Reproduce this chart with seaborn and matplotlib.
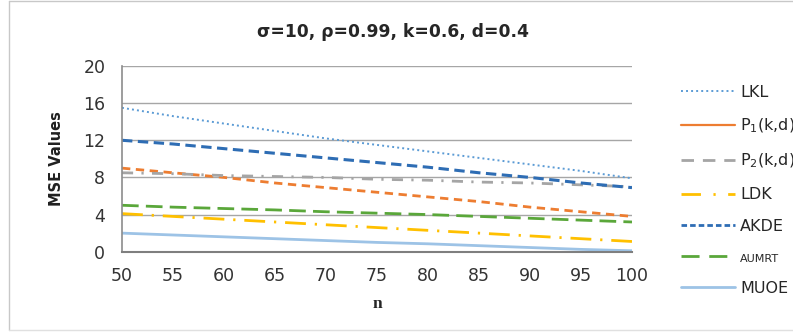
import numpy as np
import pandas as pd
import seaborn as sns
import matplotlib.pyplot as plt
from matplotlib.lines import Line2D

# values
n_values = [50, 55, 60, 65, 70, 75, 80, 85, 90, 95, 100]
lkl = [15.5, 14.6, 13.8, 13.0, 12.2, 11.5, 10.8, 10.1, 9.4, 8.7, 7.9]
p1 = [9.0, 8.5, 8.0, 7.4, 6.9, 6.4, 5.9, 5.4, 4.8, 4.3, 3.8]
p2 = [8.5, 8.4, 8.2, 8.1, 8.0, 7.8, 7.7, 7.5, 7.4, 7.2, 7.0]
ldk = [4.1, 3.8, 3.5, 3.2, 2.9, 2.6, 2.3, 2.0, 1.7, 1.4, 1.1]
akde = [12.0, 11.6, 11.1, 10.6, 10.1, 9.6, 9.1, 8.5, 8.0, 7.4, 6.9]
aumrt = [5.0, 4.8, 4.65, 4.5, 4.3, 4.15, 4.0, 3.8, 3.6, 3.4, 3.2]
muoe = [2.0, 1.8, 1.6, 1.4, 1.2, 1.0, 0.85, 0.65, 0.45, 0.25, 0.1]

methods = ["LKL", "P1", "P2", "LDK", "AKDE", "AUMRT", "MUOE"]
labels = ["LKL", "P$_1$(k,d)", "P$_2$(k,d)", "LDK", "AKDE", "AUMRT", "MUOE"]
series = [lkl, p1, p2, ldk, akde, aumrt, muoe]

colors = {"LKL": "#5b9bd5", "P1": "#ed7d31", "P2": "#a5a5a5", "LDK": "#ffc000",
          "AKDE": "#2e6db4", "AUMRT": "#5aa73a", "MUOE": "#9dc3e6"}
# line style in plot: (linewidth, dash pattern)
plot_styles = {"LKL": (1.4, (1, 1.6)), "P1": (2.0, (3.0, 2.0)),
               "P2": (2.0, (4, 3.0, 0.8, 3.0)), "LDK": (2.0, (7.5, 3.2, 0.8, 3.2)),
               "AKDE": (2.2, (3.4, 1.8)), "AUMRT": (2.0, (6.0, 2.6)), "MUOE": (2.0, None)}
# legend swatches differ a bit from the plotted lines in the original
legend_styles = {"LKL": (1.4, (1, 1.6)), "P1": (1.6, None), "P2": (2.0, (4.5, 3.2)),
                 "LDK": (2.0, (7, 4.5, 0.8, 4.5)), "AKDE": (2.0, (2.0, 1.1)),
                 "AUMRT": (2.0, (6.5, 3.5)), "MUOE": (2.0, None)}

df = pd.concat([pd.DataFrame({"n": n_values, "mse": s, "method": m})
                for m, s in zip(methods, series)], ignore_index=True)

sns.set_style("white")
plt.rcParams['font.family'] = ['DejaVu Sans']

fig = plt.figure(figsize=(7.93, 3.33), dpi=100)
ax = fig.add_axes([122 / 793, 1 - 251.7 / 333, 510 / 793, 185.7 / 333])

for m in methods:
    lw, dash = plot_styles[m]
    sub = df[df["method"] == m]
    line_ax = sns.lineplot(data=sub, x="n", y="mse", color=colors[m], linewidth=lw, ax=ax)
    line = line_ax.get_lines()[-1]
    if dash is not None:
        line.set_dashes(dash)

ax.set_xlim(50, 100)
ax.set_ylim(0, 20)
ax.set_xticks(range(50, 101, 5))
ax.set_yticks(range(0, 21, 4))
ax.yaxis.grid(True, color="#a6a6a6", linewidth=1)
ax.set_axisbelow(True)
for side in ["top", "right"]:
    ax.spines[side].set_visible(False)
ax.spines["left"].set_color("#8c8c8c")
ax.spines["bottom"].set_color("#7f7f7f")
ax.spines["left"].set_linewidth(1.2)
ax.spines["bottom"].set_linewidth(1.5)
ax.tick_params(axis="both", length=0, labelsize=12.5, colors="#333333")
ax.tick_params(axis="x", pad=11)
ax.tick_params(axis="y", pad=12)
ax.set_xlabel("n", fontsize=12.5, fontweight="bold", family="Liberation Serif", labelpad=8)
ax.set_ylabel("MSE Values", fontsize=10.5, fontweight="bold", color="#202020", labelpad=14)

fig.text(0.496, 1 - 32 / 333, "σ=10, ρ=0.99, k=0.6, d=0.4", ha="center", va="center",
         fontsize=12.3, fontweight="bold", color="#262626")

handles = []
for m in methods:
    lw, dash = legend_styles[m]
    h = Line2D([], [], color=colors[m], linewidth=lw)
    if dash is not None:
        h.set_dashes(dash)
    handles.append(h)
leg = fig.legend(handles, labels, loc="upper left", bbox_to_anchor=(681 / 793, 1 - 85 / 333),
                 frameon=False, fontsize=11.5, handlelength=3.4, handletextpad=0.3,
                 labelspacing=1.05, borderpad=0, borderaxespad=0)
for t in leg.get_texts():
    t.set_color("#262626")
leg.get_texts()[5].set_fontsize(8)

# chart border
fig.add_artist(Line2D([9 / 793, 9 / 793], [0.008, 0.997], color="#c8c8c8", linewidth=1))
fig.add_artist(Line2D([9 / 793, 1.0], [0.997, 0.997], color="#c8c8c8", linewidth=1))
fig.add_artist(Line2D([9 / 793, 1.0], [0.008, 0.008], color="#e0e0e0", linewidth=1))

fig.savefig("out.png", dpi=100)
